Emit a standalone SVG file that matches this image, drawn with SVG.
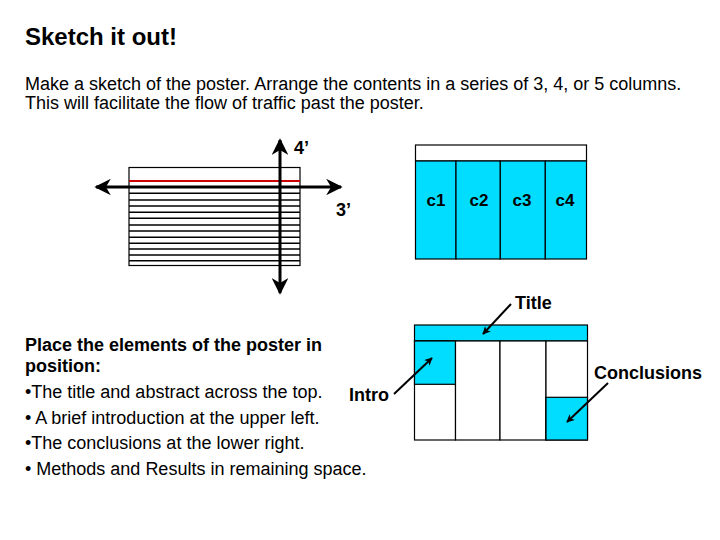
<svg xmlns="http://www.w3.org/2000/svg" width="720" height="540" viewBox="0 0 720 540">
<defs>
<style>
.t{font-family:"Liberation Sans",Arial,sans-serif;fill:#000}
.b{font-weight:bold}
.box{fill:#fff;stroke:#000;stroke-width:1.2}
.cy{fill:#00DDFF;stroke:#000;stroke-width:1.2}
.ln{stroke:#000;stroke-width:1.5}
.ax{stroke:#000;stroke-width:3;fill:none}
.ar{stroke:#000;stroke-width:2;fill:none;marker-end:url(#ah)}
</style>
<marker id="ah" viewBox="0 0 10 10" refX="9" refY="5" markerWidth="8" markerHeight="8" markerUnits="userSpaceOnUse" orient="auto">
<path d="M0,0 L10,5 L0,10 L2.5,5 Z" fill="#000"/>
</marker>
<marker id="ax" viewBox="0 0 10 10" refX="9" refY="5" markerWidth="5.5" markerHeight="5.5" orient="auto">
<path d="M0,0 L10,5 L0,10 L3,5 Z" fill="#000"/>
</marker>
</defs>
<rect width="720" height="540" fill="#fff"/>
<text class="t b" x="25" y="45" font-size="24">Sketch it out!</text>
<text class="t" x="25" y="90" font-size="18">Make a sketch of the poster. Arrange the contents in a series of 3, 4, or 5 columns.</text>
<text class="t" x="25" y="109" font-size="18">This will facilitate the flow of traffic past the poster.</text>

<g id="sketch">
<rect class="box" x="129" y="167.5" width="171" height="98" stroke-width="2"/>
<line x1="129" y1="181" x2="300" y2="181" stroke="#CC0000" stroke-width="2"/>
<g class="ln">
<line x1="129" y1="193.3" x2="300" y2="193.3"/>
<line x1="129" y1="200" x2="300" y2="200"/>
<line x1="129" y1="206" x2="300" y2="206"/>
<line x1="129" y1="212.3" x2="300" y2="212.3"/>
<line x1="129" y1="218.3" x2="300" y2="218.3"/>
<line x1="129" y1="225" x2="300" y2="225"/>
<line x1="129" y1="231" x2="300" y2="231"/>
<line x1="129" y1="237.3" x2="300" y2="237.3"/>
<line x1="129" y1="243.3" x2="300" y2="243.3"/>
<line x1="129" y1="249" x2="300" y2="249"/>
<line x1="129" y1="255" x2="300" y2="255"/>
<line x1="129" y1="260.7" x2="300" y2="260.7"/>
</g>
</g>
<g id="axes">
<line class="ax" x1="190" y1="187" x2="341" y2="187" marker-end="url(#ax)"/>
<line class="ax" x1="190" y1="187" x2="96" y2="187" marker-end="url(#ax)"/>
<line class="ax" x1="280" y1="220" x2="280" y2="140" marker-end="url(#ax)"/>
<line class="ax" x1="280" y1="220" x2="280" y2="293" marker-end="url(#ax)"/>
<text class="t b" x="294" y="154" font-size="18">4’</text>
<text class="t b" x="336" y="216" font-size="18">3’</text>
</g>

<g id="poster1">
<rect class="box" x="415.5" y="145" width="171" height="16"/>
<rect class="cy" x="415.5" y="161" width="40.5" height="98"/>
<rect class="cy" x="456" y="161" width="44.3" height="98"/>
<rect class="cy" x="500.3" y="161" width="45" height="98"/>
<rect class="cy" x="545.3" y="161" width="41.2" height="98"/>
<g class="t b" font-size="17" text-anchor="middle">
<text x="436" y="206">c1</text>
<text x="479" y="206">c2</text>
<text x="522" y="206">c3</text>
<text x="565" y="206">c4</text>
</g>
</g>

<g id="poster2">
<rect class="cy" x="414.5" y="325" width="173" height="16"/>
<rect class="box" x="414.5" y="341" width="41" height="99"/>
<rect class="cy" x="414.5" y="341" width="41" height="43.3"/>
<rect class="box" x="455.5" y="341" width="44.5" height="99"/>
<rect class="box" x="500" y="341" width="46" height="99"/>
<rect class="box" x="546" y="341" width="41.5" height="99"/>
<rect class="cy" x="546" y="397.3" width="41.5" height="42.7"/>
</g>

<g id="labels" class="t b" font-size="18">
<text x="515" y="309">Title</text>
<text x="594" y="379">Conclusions</text>
<text x="349" y="401">Intro</text>
</g>

<g id="connectors">
<line class="ar" x1="511" y1="304" x2="483" y2="334"/>
<line class="ar" x1="608" y1="383" x2="567" y2="422"/>
<line class="ar" x1="394" y1="394" x2="432" y2="358"/>
</g>

<g id="notes" class="t" font-size="18">
<text class="b" x="25" y="351">Place the elements of the poster in</text>
<text class="b" x="25" y="372">position:</text>
<text x="25" y="398">•The title and abstract across the top.</text>
<text x="25" y="424">• A brief introduction at the upper left.</text>
<text x="25" y="449">•The conclusions at the lower right.</text>
<text x="25" y="475">• Methods and Results in remaining space.</text>
</g>
</svg>
